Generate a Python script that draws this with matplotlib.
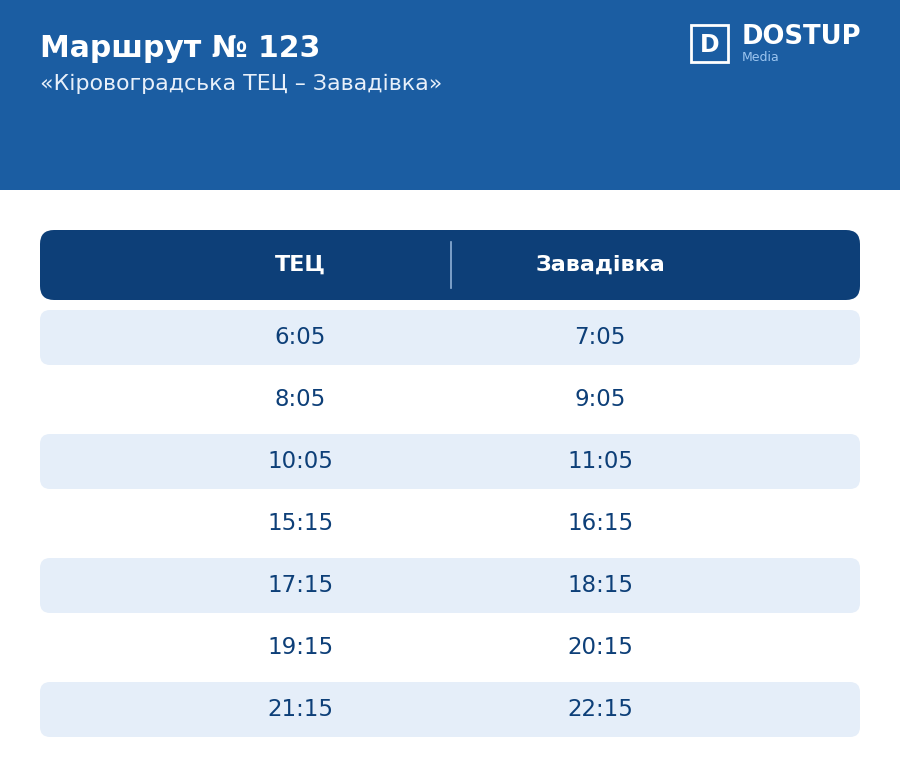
import matplotlib
matplotlib.use("Agg")
import matplotlib.pyplot as plt
from matplotlib.patches import FancyBboxPatch, Rectangle

# ── Data ────────────────────────────────────────────────────────
TITLE     = "Маршрут № 123"
SUBTITLE  = "«Кіровоградська ТЕЦ – Завадівка»"
COLUMNS   = ["ТЕЦ", "Завадівка"]
FROM_TEC  = ["6:05", "8:05", "10:05", "15:15", "17:15", "19:15", "21:15"]
FROM_ZAV  = ["7:05", "9:05", "11:05", "16:15", "18:15", "20:15", "22:15"]

HEAD_BG  = "#1b5da2"
TABLE_HD = "#0d3f78"
STRIPE   = "#e5eef9"
TXT      = "#0d3f78"

fig = plt.figure(figsize=(9, 7.84), dpi=100)
ax = fig.add_axes([0, 0, 1, 1])
ax.set_xlim(0, 900)
ax.set_ylim(784, 0)
ax.axis("off")

# ── Header band ─────────────────────────────────────────────────
ax.add_patch(Rectangle((0, 0), 900, 190, color=HEAD_BG, lw=0))
ax.text(40, 48, TITLE, color="white", fontsize=21.5, fontweight="bold", va="center")
ax.text(40, 84, SUBTITLE, color="#e8f0fa", fontsize=15.9, va="center")

# logo
ax.add_patch(Rectangle((691, 25), 37, 37, fill=False, ec="white", lw=2))
ax.text(709.5, 44.5, "D", color="white", fontsize=17, fontweight="bold",
        ha="center", va="center")
ax.text(742, 37, "DOSTUP", color="white", fontsize=18.6, fontweight="bold", va="center")
ax.text(742, 57, "Media", color="#9cc5f0", fontsize=9, va="center")

# ── Table header ────────────────────────────────────────────────
ax.add_patch(FancyBboxPatch((40, 230), 820, 70, boxstyle="round,pad=0,rounding_size=14",
                            fc=TABLE_HD, ec="none"))
ax.plot([451, 451], [242, 288], color="#8fb0d6", lw=1.2)
col_x = [300, 600]
for x, name in zip(col_x, COLUMNS):
    ax.text(x, 265, name, color="white", fontsize=16, fontweight="bold",
            ha="center", va="center")

# ── Rows ────────────────────────────────────────────────────────
row_h, step, top = 55, 62, 310
for i, (a, b) in enumerate(zip(FROM_TEC, FROM_ZAV)):
    y0 = top + i * step
    if i % 2 == 0:
        ax.add_patch(FancyBboxPatch((40, y0), 820, row_h,
                                    boxstyle="round,pad=0,rounding_size=10",
                                    fc=STRIPE, ec="none"))
    yc = y0 + row_h / 2
    ax.text(col_x[0], yc, a, color=TXT, fontsize=16.5, ha="center", va="center")
    ax.text(col_x[1], yc, b, color=TXT, fontsize=16.5, ha="center", va="center")

fig.savefig("out.png", dpi=100, facecolor="white")
